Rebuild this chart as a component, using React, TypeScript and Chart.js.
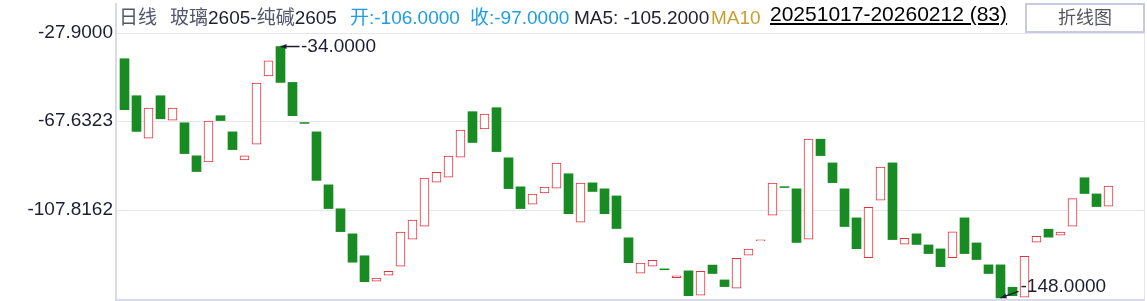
import React, { useEffect, useRef } from "react";
import { Chart, registerables } from "chart.js";

Chart.register(...registerables);

// ---- data ----
const OPENS = [
  -39.5, -56.2, -75.3, -56.2, -67.2, -68.4, -83.3, -86.1, -65.2, -72.5,
  -85.2, -78.0, -47.3, -34.0, -50.2, -68.3, -72.5, -96.4, -107.2, -118.5,
  -128.4, -139.9, -137.2, -133.1, -120.9, -115.0, -95.2, -92.9, -83.9, -63.4,
  -71.2, -61.6, -84.2, -97.3, -105.1, -100.1, -97.9, -91.4, -113.2, -95.5,
  -98.2, -101.4, -120.3, -136.3, -133.1, -134.3, -138.3, -135.2, -146.2, -132.6,
  -139.3, -143.0, -128.1, -121.6, -110.1, -97.2, -98.2, -120.9, -75.8, -86.5,
  -98.2, -111.3, -129.2, -103.3, -86.5, -123.2, -118.5, -123.5, -125.3, -129.2,
  -111.3, -122.6, -132.5, -132.5, -142.6, -147.1, -122.3, -116.4, -119.1, -115.0,
  -93.2, -100.5, -106.0,
];
const CLOSES = [
  -62.5, -72.3, -61.8, -66.6, -61.8, -82.3, -90.4, -67.6, -67.4, -80.5,
  -83.3, -50.5, -40.5, -50.2, -65.2, -68.7, -94.4, -107.1, -117.5, -131.3,
  -140.1, -138.5, -135.4, -117.7, -112.3, -93.4, -90.7, -83.4, -71.7, -77.3,
  -64.5, -81.4, -98.1, -107.1, -100.6, -97.4, -86.6, -109.4, -95.6, -99.4,
  -109.4, -116.1, -131.5, -131.7, -130.4, -134.7, -137.4, -146.4, -135.4, -136.4,
  -142.3, -129.5, -125.4, -121.2, -95.6, -97.6, -122.4, -75.8, -83.2, -95.4,
  -115.2, -125.2, -106.5, -88.4, -121.1, -120.5, -123.3, -127.4, -133.3, -117.6,
  -127.4, -130.1, -136.4, -147.4, -146.4, -128.6, -119.6, -120.0, -117.7, -102.6,
  -100.3, -106.2, -97.0,
];
const Y_TICKS = [-27.9, -67.6323, -107.8162];
const Y_MIN = -147.9;
const Y_MAX = -27.9;
const HIGH_MARK = { index: 13, value: -34.0 };
const LOW_MARK = { index: 73, value: -148.0 };

const HEADER_PERIOD = "日线";
const HEADER_NAME = ["玻璃", "2605-", "纯碱", "2605"];
const HEADER_OPEN = "开:-106.0000";
const HEADER_CLOSE = "收:-97.0000";
const HEADER_MA5 = "MA5: -105.2000";
const HEADER_MA10 = "MA10";
const HEADER_RANGE = "20251017-20260212 (83)";
const BUTTON_TEXT = "折线图";

// ---- styles ----
const FONT = "'Liberation Sans', Arial, 'Noto Sans CJK SC', sans-serif";
const RED = "#e2323a";
const GREEN = "#188c22";
const TEXT_DARK = "#1e1e32";
const GRID = "#e6e6f0";
const FRAME = "#d9d9ea";

const framePlugin = {
  id: "frame",
  afterDraw(chart: any) {
    const { ctx, chartArea } = chart;
    ctx.save();
    ctx.fillStyle = FRAME;
    // left axis line (extends into header)
    ctx.fillRect(chartArea.left - 1, 3, 2, chart.height - 3);
    // bottom border
    ctx.fillRect(chartArea.left - 1, chartArea.bottom, chartArea.right - chartArea.left + 2, 2);
    // right border
    ctx.fillStyle = GRID;
    ctx.fillRect(chartArea.right, chartArea.top, 1, chartArea.bottom - chartArea.top);
    ctx.restore();
  },
};

function drawArrow(ctx: CanvasRenderingContext2D, tx: number, ty: number, ex: number, ey: number) {
  ctx.beginPath();
  ctx.moveTo(tx, ty);
  ctx.lineTo(ex, ey);
  ctx.stroke();
  const ang = Math.atan2(ey - ty, ex - tx);
  const len = 6;
  const hw = 2.5;
  const bx = tx + Math.cos(ang) * len;
  const by = ty + Math.sin(ang) * len;
  ctx.beginPath();
  ctx.moveTo(tx, ty);
  ctx.lineTo(bx - Math.sin(ang) * hw, by + Math.cos(ang) * hw);
  ctx.lineTo(bx + Math.sin(ang) * hw, by - Math.cos(ang) * hw);
  ctx.closePath();
  ctx.fill();
}

const markerPlugin = {
  id: "extremes",
  afterDatasetsDraw(chart: any) {
    const { ctx } = chart;
    const xs = chart.scales.x;
    const ys = chart.scales.y;
    ctx.save();
    ctx.strokeStyle = TEXT_DARK;
    ctx.fillStyle = TEXT_DARK;
    ctx.lineWidth = 1.5;
    ctx.font = `19px ${FONT}`;
    ctx.textAlign = "left";
    ctx.textBaseline = "middle";

    const hi = HIGH_MARK.index;
    const hx = xs.getPixelForValue(hi);
    const hy = ys.getPixelForValue(Math.max(OPENS[hi], CLOSES[hi]));
    drawArrow(ctx, hx, hy, hx + 19, hy);
    ctx.fillText(HIGH_MARK.value.toFixed(4), hx + 20.5, hy + 0.5);

    const lo = LOW_MARK.index;
    const lx = xs.getPixelForValue(lo);
    const ly = ys.getPixelForValue(Math.min(OPENS[lo], CLOSES[lo]));
    drawArrow(ctx, lx, ly, lx + 18, ly - 6.5);
    ctx.fillText(LOW_MARK.value.toFixed(4), lx + 20, ly - 11.5);
    ctx.restore();
  },
};

function CandleChart() {
  const ref = useRef<HTMLCanvasElement | null>(null);
  useEffect(() => {
    document.body.style.margin = "0";
    if (!ref.current) return;
    const rising = (i: number) => CLOSES[i] >= OPENS[i];
    const chart = new Chart(ref.current, {
      type: "bar",
      data: {
        datasets: [
          {
            data: OPENS.map((o, i) => ({ x: i, y: [o, CLOSES[i]] })) as any,
            backgroundColor: (c: any) => (rising(c.dataIndex) ? "#ffffff" : GREEN),
            borderColor: (c: any) => (rising(c.dataIndex) ? RED : GREEN),
            borderWidth: (c: any) => (rising(c.dataIndex) ? 1 : 0),
            borderSkipped: false,
            barThickness: 9,
          } as any,
        ],
      },
      options: {
        responsive: false,
        animation: false,
        devicePixelRatio: 1,
        layout: { padding: { top: 33, bottom: 2, left: 0, right: 3 } },
        plugins: { legend: { display: false }, tooltip: { enabled: false } },
        scales: {
          x: { type: "linear", min: -0.7083, max: 84.958, display: false, offset: false },
          y: {
            min: Y_MIN,
            max: Y_MAX,
            afterBuildTicks: (s: any) => {
              s.ticks = Y_TICKS.map((v) => ({ value: v }));
            },
            afterFit: (s: any) => {
              s.width = 116;
              s.paddingTop = 0;
              s.paddingBottom = 0;
            },
            ticks: {
              padding: 3,
              color: TEXT_DARK,
              font: { family: FONT, size: 19 },
              callback: (v: any) => Number(v).toFixed(4),
            },
            grid: { color: GRID, drawTicks: false, lineWidth: 1 },
            border: { display: false },
          },
        },
      } as any,
      plugins: [framePlugin, markerPlugin],
    });
    return () => chart.destroy();
  }, []);
  return <canvas ref={ref} width={1147} height={301} style={{ position: "absolute", left: 0, top: 0 }} />;
}

const spanBase: React.CSSProperties = {
  position: "absolute",
  top: 8,
  fontSize: 19,
  lineHeight: "19px",
  whiteSpace: "nowrap",
  fontFamily: FONT,
};
const CJK_GRAY = "#55556c";

export default function App() {
  return (
    <div style={{ position: "relative", width: 1147, height: 301, background: "#fff", overflow: "hidden" }}>
      <CandleChart />
      <span style={{ ...spanBase, left: 119, color: CJK_GRAY }}>{HEADER_PERIOD}</span>
      <span style={{ ...spanBase, left: 170, color: TEXT_DARK }}>
        <span style={{ color: CJK_GRAY }}>{HEADER_NAME[0]}</span>
        {HEADER_NAME[1]}
        <span style={{ color: CJK_GRAY }}>{HEADER_NAME[2]}</span>
        {HEADER_NAME[3]}
      </span>
      <span style={{ ...spanBase, left: 350, color: "#1e9de6" }}>{HEADER_OPEN}</span>
      <span style={{ ...spanBase, left: 470, color: "#1e9de6" }}>{HEADER_CLOSE}</span>
      <span style={{ ...spanBase, left: 574, color: "#222230" }}>{HEADER_MA5}</span>
      <span style={{ ...spanBase, left: 711, color: "#c8a030" }}>{HEADER_MA10}</span>
      <span
        style={{
          ...spanBase,
          left: 770,
          top: 3,
          fontSize: 21,
          lineHeight: "21px",
          color: "#000",
          textDecoration: "underline",
        }}
      >
        {HEADER_RANGE}
      </span>
      <div
        style={{
          position: "absolute",
          left: 1025,
          top: 3,
          width: 120,
          height: 30,
          boxSizing: "border-box",
          border: "2px solid #c9cae0",
          background: "#fff",
          color: "#555560",
          fontFamily: FONT,
          fontSize: 18,
          lineHeight: "26px",
          textAlign: "center",
        }}
      >
        {BUTTON_TEXT}
      </div>
    </div>
  );
}
